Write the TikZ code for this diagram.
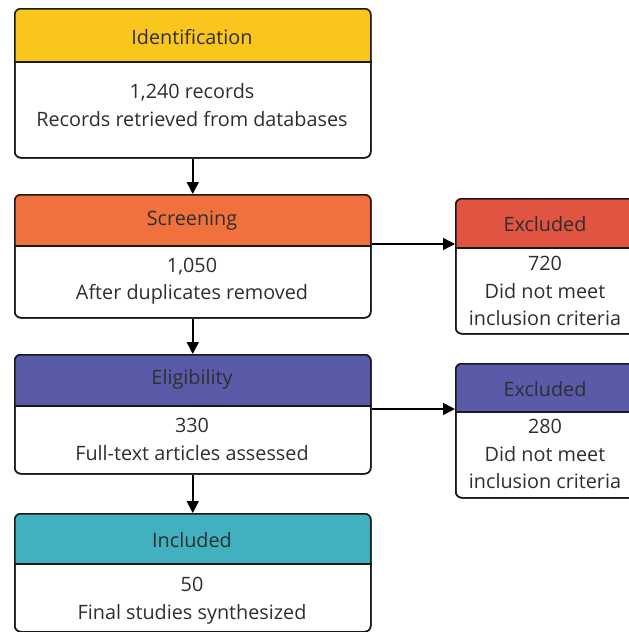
\documentclass[tikz,border=0pt]{standalone}
\usepackage{fontspec}
\setmainfont{Open Sans}
\usetikzlibrary{arrows.meta}
\definecolor{cyellow}{HTML}{FAC51C}
\definecolor{corange}{HTML}{F1713E}
\definecolor{cred}{HTML}{E05441}
\definecolor{cpurple}{HTML}{5A5BA8}
\definecolor{cteal}{HTML}{41B1BF}
\definecolor{ctext}{HTML}{2E2E2E}
\tikzset{
  frame/.style={draw=black!90, line width=1.5pt, rounded corners=6pt, inner sep=0pt, anchor=north west},
  sep/.style={draw=black!90, line width=1.2pt},
  lbl/.style={text=ctext, font=\fontsize{19.8}{27.5}\selectfont, align=center, inner sep=0pt},
  flow/.style={draw=black, line width=1.5pt, -{Triangle[length=12pt,width=12pt]}}
}
% #1 name, #2 x, #3 ytop, #4 width, #5 header height, #6 total height, #7 colour
\newcommand{\prismabox}[7]{%
  \node[frame, minimum width=#4, minimum height=#6] (#1) at (#2,-#3) {};
  \begin{scope}
    \clip[rounded corners=6pt] (#1.south west) rectangle (#1.north east);
    \fill[#7] (#1.north west) rectangle ([yshift=-#5]#1.north east);
  \end{scope}
  \coordinate (#1-hl) at ([yshift=-#5]#1.north west);
  \coordinate (#1-hr) at ([yshift=-#5]#1.north east);
  \draw[sep] (#1-hl) -- (#1-hr);
  \node[frame, fill=none, minimum width=#4, minimum height=#6] at (#2,-#3) {};
}
\begin{document}
\begin{tikzpicture}[x=1pt,y=1pt]
\useasboundingbox (0,0) rectangle (629,-632);
\prismabox{b1}{14}{8}{356pt}{54pt}{149pt}{cyellow}
\prismabox{b2}{14}{194}{356pt}{52pt}{123pt}{corange}
\prismabox{b3}{14}{354}{356pt}{52pt}{119pt}{cpurple}
\prismabox{b4}{14}{513}{356pt}{51pt}{118pt}{cteal}
\prismabox{e1}{455}{198}{180pt}{50pt}{135pt}{cred}
\prismabox{e2}{455}{363}{180pt}{49pt}{134pt}{cpurple}

\node[lbl] (t1) at (192,-37) {Identification};
\node[lbl] (d1) at (192,-105) {1,240 records\\Records retrieved from databases};
\node[lbl] (t2) at (192,-221) {Screening};
\node[lbl] (d2) at (192,-281) {1,050\\After duplicates removed};
\node[lbl] (t3) at (192,-379) {Eligibility};
\node[lbl] (d3) at (192,-439.5) {330\\Full-text articles assessed};
\node[lbl] (t4) at (192,-540) {Included};
\node[lbl] (d4) at (192,-600.5) {50\\Final studies synthesized};
\node[lbl] (te1) at (545,-224) {Excluded};
\node[lbl] (de1) at (545,-291) {720\\Did not meet\\inclusion criteria};
\node[lbl] (te2) at (545,-389) {Excluded};
\node[lbl] (de2) at (545,-454) {280\\Did not meet\\inclusion criteria};

\draw[flow] (b1.south) -- (b2.north);
\draw[flow] (b2.south) -- (b3.north);
\draw[flow] (b3.south) -- (b4.north);
\coordinate (a1s) at (370,-244);
\coordinate (a1e) at (455,-244);
\coordinate (a2s) at (370,-409);
\coordinate (a2e) at (455,-409);
\draw[flow] (b2.east |- a1s) -- (e1.west |- a1e);
\draw[flow] (b3.east |- a2s) -- (e2.west |- a2e);
\end{tikzpicture}
\end{document}
